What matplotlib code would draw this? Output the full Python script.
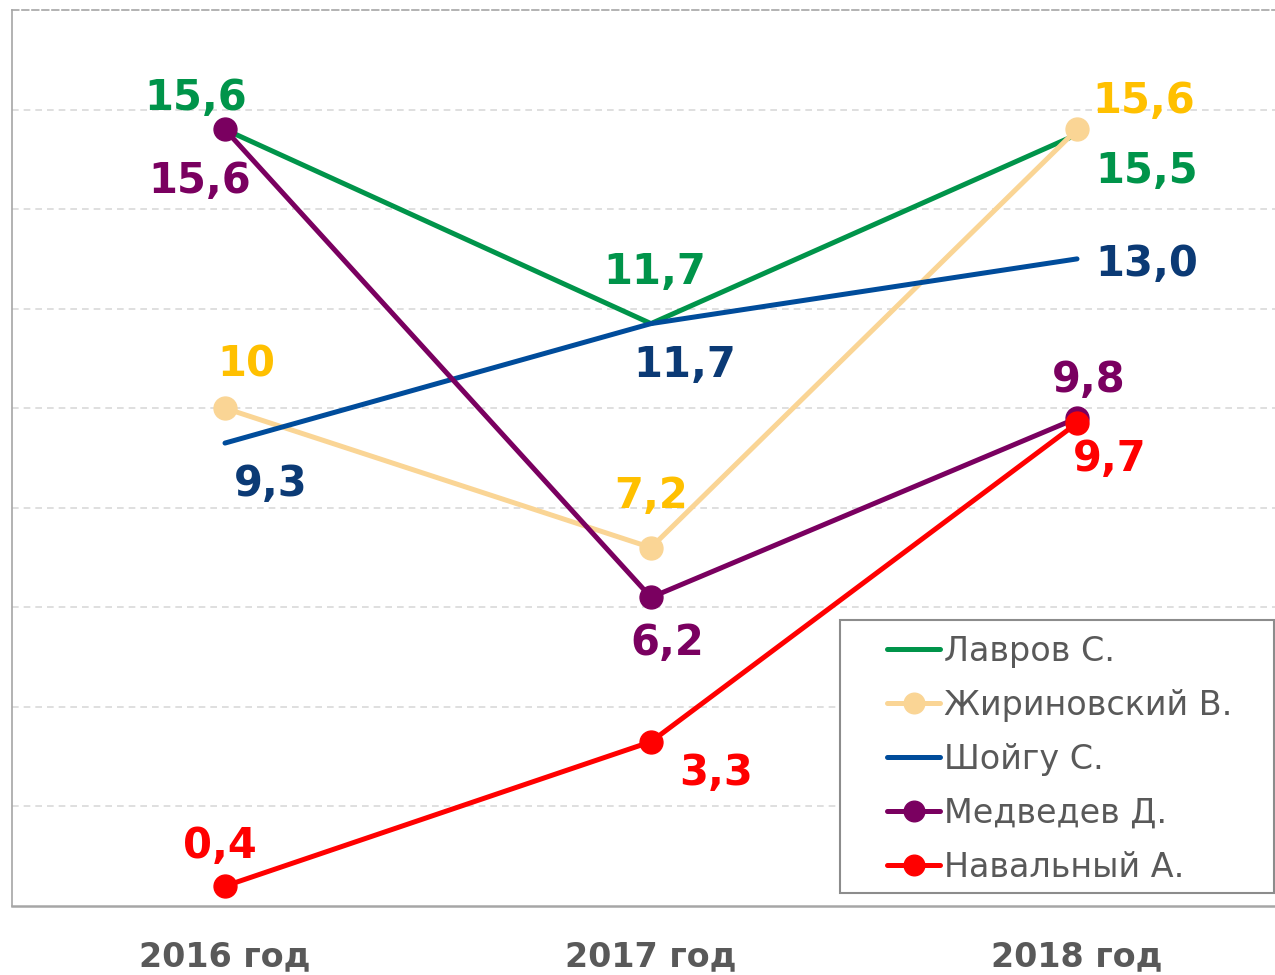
import matplotlib
matplotlib.use('Agg')
import matplotlib.pyplot as plt
from matplotlib.patches import Rectangle

# ---- data ----
years = ['2016 год', '2017 год', '2018 год']
names = ['Лавров С.', 'Жириновский В.', 'Шойгу С.', 'Медведев Д.', 'Навальный А.']
lavrov = [15.6, 11.7, 15.5]
zhirinovsky = [10, 7.2, 15.6]
shoigu = [9.3, 11.7, 13.0]
medvedev = [15.6, 6.2, 9.8]
navalny = [0.4, 3.3, 9.7]

series = [lavrov, zhirinovsky, shoigu, medvedev, navalny]

# ---- styles ----
line_colors = ['#00944A', '#FAD595', '#004C9B', '#7A0060', '#FF0000']
label_colors = ['#00944A', '#FFC000', '#0B3A75', '#7A0060', '#FF0000']
markers = [None, 'o', None, 'o', 'o']
fmts = ['{:.1f}', '{:g}', '{:.1f}', '{:.1f}', '{:.1f}']
# label offsets (pixels, from point to label centre)
offsets = [
    [(-29, 34), (4, 55), (70, -34)],
    [(21, 47), (0, 55), (67, 31)],
    [(46, -38), (34, -38), (70, -2)],
    [(-25, -49), (16, -43), (12, 41)],
    [(-5, 43), (65, -28), (33, -33)],
]

W, H = 1275, 975
fig = plt.figure(figsize=(W / 100, H / 100), dpi=100)
plt.rcParams['font.family'] = ['DejaVu Sans']
ax = fig.add_axes([12 / W, (H - 906) / H, 1278 / W, (906 - 10) / H])

x = list(range(len(years)))
ax.set_xlim(-0.5, 2.5)
ax.set_ylim(0, 18)

ax.set_yticks(range(2, 18, 2))
ax.yaxis.grid(True, color='#D9D9D9', linestyle=(0, (4, 3)), linewidth=1.2)
ax.set_axisbelow(True)
ax.tick_params(axis='y', length=0, labelleft=False)
ax.set_xticks(x)
ax.set_xticklabels(years, fontsize=24, fontweight='bold', color='#595959')
ax.tick_params(axis='x', length=0, pad=25)

for s in ['left', 'bottom']:
    ax.spines[s].set_color('#A6A6A6')
ax.spines['left'].set_linewidth(1.2)
ax.spines['bottom'].set_linewidth(1.8)
ax.spines['top'].set_color('#A6A6A6')
ax.spines['top'].set_linestyle((0, (4, 2)))
ax.spines['top'].set_linewidth(1.2)
ax.spines['right'].set_visible(False)

handles = []
for i, (vals, name) in enumerate(zip(series, names)):
    ln, = ax.plot(x, vals, color=line_colors[i], linewidth=3.6,
                  marker=markers[i], markersize=16.5, zorder=3 + i,
                  solid_capstyle='round', label=name)
    handles.append(ln)
    for j, v in enumerate(vals):
        dx, dy = offsets[i][j]
        ax.annotate(fmts[i].format(v).replace('.', ','), (x[j], v),
                    xytext=(dx, dy - 15), textcoords='offset pixels',
                    ha='center', va='baseline', fontsize=30,
                    fontweight='bold', color=label_colors[i], zorder=20)

# legend frame
rect = Rectangle((840 / W, (H - 893) / H), (1274 - 840) / W, (893 - 620) / H,
                 transform=fig.transFigure, facecolor='white',
                 edgecolor='#8C8C8C', linewidth=1.5, zorder=30)
ax.add_artist(rect)
rect.set_clip_on(False)

leg = ax.legend(handles=handles, loc='upper left',
                bbox_to_anchor=(887 / W, (H - 635) / H),
                bbox_transform=fig.transFigure, frameon=False,
                fontsize=24, labelcolor='#595959', borderpad=0,
                borderaxespad=0,
                handlelength=1.6, handletextpad=0.12, labelspacing=0.63,
                markerscale=0.9)
leg.set_zorder(40)

fig.savefig('out.png', dpi=100)
